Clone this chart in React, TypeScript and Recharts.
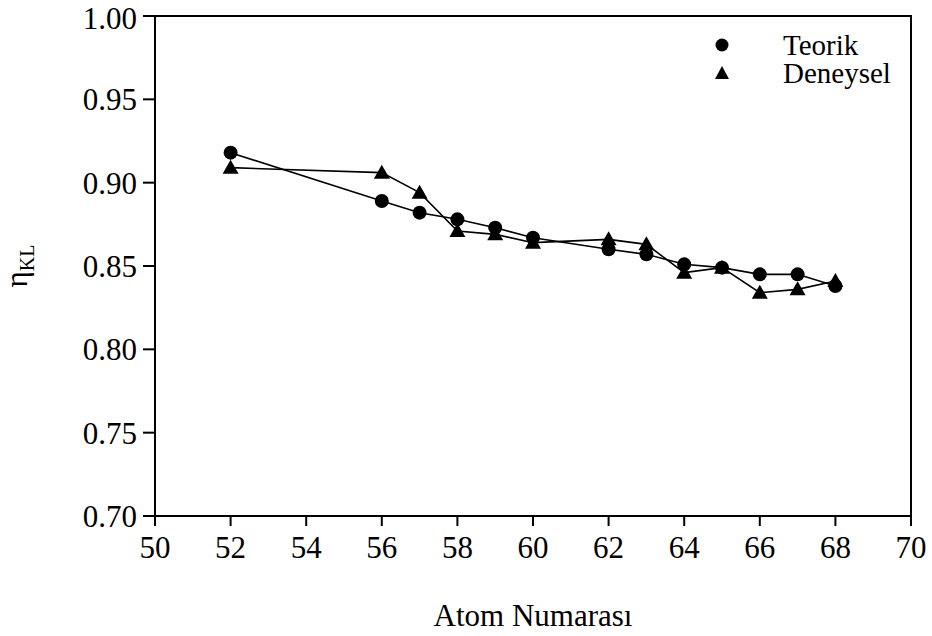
import React from 'react';
import { LineChart, Line, XAxis, YAxis, ReferenceArea } from 'recharts';

const atomNumbers = [52, 56, 57, 58, 59, 60, 62, 63, 64, 65, 66, 67, 68];
const teorik = [0.918, 0.889, 0.882, 0.878, 0.873, 0.867, 0.860, 0.857, 0.851, 0.849, 0.845, 0.845, 0.838];
const deneysel = [0.909, 0.906, 0.894, 0.871, 0.869, 0.864, 0.866, 0.863, 0.846, 0.849, 0.834, 0.836, 0.841];
const xTicks = [50, 52, 54, 56, 58, 60, 62, 64, 66, 68, 70];
const yTicks = [0.7, 0.75, 0.8, 0.85, 0.9, 0.95, 1.0];
const seriesNames = ['Teorik', 'Deneysel'];

const data = atomNumbers.map((z, i) => ({ z, teorik: teorik[i], deneysel: deneysel[i] }));

const FONT = '"Liberation Serif", "Times New Roman", serif';
const FS = 31;

const CircleDot = (props: any) => {
  const { cx, cy } = props;
  if (cx == null || cy == null) return null;
  return <circle cx={cx} cy={cy} r={7} fill="#000" stroke="none" />;
};

const TriDot = (props: any) => {
  const { cx, cy } = props;
  if (cx == null || cy == null) return null;
  return <path d={`M${cx},${cy - 8} L${cx + 8},${cy + 6} L${cx - 8},${cy + 6} Z`} fill="#000" stroke="none" />;
};

const YLabel = (props: any) => {
  const vb = props.viewBox || {};
  const x = 27;
  const y = vb.y + vb.height / 2;
  return (
    <text transform={`translate(${x}, ${y}) rotate(-90)`} textAnchor="middle" fontFamily={FONT} fontSize={FS} fill="#000">
      η<tspan fontSize={20} dy={7}>KL</tspan>
    </text>
  );
};

export default function App() {
  return (
    <div style={{ position: 'absolute', left: 0, top: 0, width: 932, height: 636, background: '#fff' }}>
      <LineChart width={932} height={636} data={data} margin={{ top: 16, right: 21, bottom: 0, left: 0 }}>
        <ReferenceArea x1={50} x2={70} y1={0.7} y2={1.0} fill="none" stroke="#000" strokeWidth={2} strokeOpacity={1} fillOpacity={0} />
        <XAxis
          dataKey="z"
          type="number"
          domain={[50, 70]}
          ticks={xTicks}
          height={120}
          tickSize={10}
          tickMargin={10}
          stroke="#000"
          strokeWidth={2}
          tick={{ fill: '#000', fontFamily: FONT, fontSize: FS }}
          label={{ value: 'Atom Numarası', position: 'insideBottom', offset: 10, fill: '#000', fontFamily: FONT, fontSize: FS }}
        />
        <YAxis
          type="number"
          domain={[0.7, 1.0]}
          ticks={yTicks}
          width={155}
          tickSize={12}
          tickMargin={6}
          stroke="#000"
          strokeWidth={2}
          tickFormatter={(v: number) => v.toFixed(2)}
          tick={{ fill: '#000', fontFamily: FONT, fontSize: FS }}
          label={<YLabel />}
        />
        <Line type="linear" dataKey="teorik" name={seriesNames[0]} stroke="#000" strokeWidth={1.6} dot={<CircleDot />} activeDot={false} isAnimationActive={false} />
        <Line type="linear" dataKey="deneysel" name={seriesNames[1]} stroke="#000" strokeWidth={1.6} dot={<TriDot />} activeDot={false} isAnimationActive={false} />
      </LineChart>
      <div style={{ position: 'absolute', left: 714, top: 31, fontFamily: FONT, fontSize: 29, color: '#000', lineHeight: '28px' }}>
        <div style={{ display: 'flex', alignItems: 'center', height: 28 }}>
          <svg width={16} height={16} style={{ marginRight: 53 }}><circle cx={8} cy={8} r={6.5} fill="#000" /></svg>
          <span>{seriesNames[0]}</span>
        </div>
        <div style={{ display: 'flex', alignItems: 'center', height: 28 }}>
          <svg width={16} height={16} style={{ marginRight: 53 }}><path d="M8,1 L15,14 L1,14 Z" fill="#000" /></svg>
          <span>{seriesNames[1]}</span>
        </div>
      </div>
    </div>
  );
}
